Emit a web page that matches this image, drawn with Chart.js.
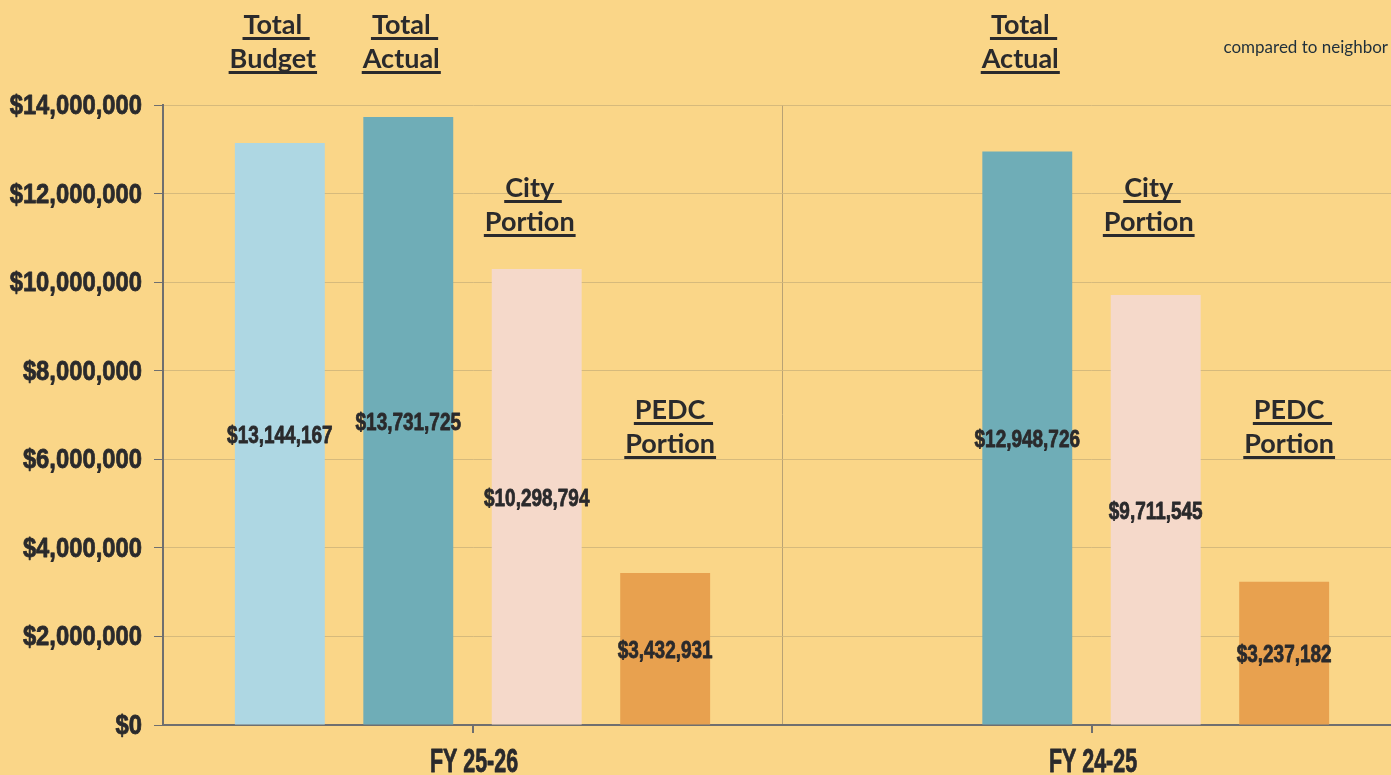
<!DOCTYPE html>
<html>
<head>
<meta charset="utf-8">
<script src="https://cdn.jsdelivr.net/npm/chart.js@4.4.1/dist/chart.umd.min.js"></script>
<style>
  html, body { margin: 0; padding: 0; background: #fad688; overflow: hidden; }
  #wrap { position: relative; width: 1391px; height: 775px; }
  #note {
    position: absolute; right: 3px; top: 36px;
    font: 17px Lato, sans-serif; color: #1f2f3b;
  }
</style>
</head>
<body>
<div id="wrap">
  <canvas id="chart" width="1401" height="775"></canvas>
  <div id="note">compared to neighbor</div>
</div>
<script>
// FY budget vs actual, split into City / PEDC portions

const CATEGORIES   = ['FY 25-26', 'FY 24-25'];
const SERIES       = ['Total Budget', 'Total Actual', 'City Portion', 'PEDC Portion'];
const TOTAL_BUDGET = [13144167, null];
const TOTAL_ACTUAL = [13731725, 12948726];
const CITY_PORTION = [10298794, 9711545];
const PEDC_PORTION = [3432931, 3237182];
const HEADERS      = [['Total ', 'Budget'], ['Total ', 'Actual'], ['City ', 'Portion'], ['PEDC ', 'Portion']];
const Y_MAX  = 14000000;
const Y_STEP = 2000000;

const COLORS = ['#aed7e3', '#6fadb7', '#f5d9ca', '#e8a14f'];
const BOLD   = '"Liberation Sans", Arial, sans-serif';
const INK    = '#2a2a2c';

const fmt = v => '$' + v.toLocaleString('en-US');

// ── Caption layout: baselines (px) and small nudges per series ───────────────
const HEADER_BASE  = [[34, 68], [34, 68], [197, 231], [419, 453]];
const HEADER_NUDGE = [-7, -7, -7, 5];

// draw bold text squeezed horizontally (condensed look)
function narrowText(ctx, text, x, y, size, sx, align, heavy) {
  ctx.save();
  ctx.font = 'bold ' + size + 'px ' + BOLD;
  ctx.textBaseline = 'alphabetic';
  ctx.textAlign = align;
  ctx.translate(x, y);
  ctx.scale(sx, 1);
  ctx.fillText(text, 0, 0);
  if (heavy) {
    ctx.strokeStyle = ctx.fillStyle;
    ctx.lineWidth = heavy;
    ctx.lineJoin = 'round';
    ctx.strokeText(text, 0, 0);
  }
  ctx.restore();
}

const overlay = {
  id: 'overlay',
  afterDatasetsDraw(chart) {
    const ctx = chart.ctx;
    const xs  = chart.scales.x;
    const ys  = chart.scales.y;
    const ca  = chart.chartArea;
    ctx.save();
    ctx.fillStyle = INK;

    // y tick labels
    ys.ticks.forEach(t => {
      narrowText(ctx, fmt(t.value), ca.left - 21, ys.getPixelForValue(t.value) + 9, 28, 0.85, 'right', 0.8);
    });

    // x tick marks + labels at category centres
    ctx.strokeStyle = '#6f6f6f';
    ctx.lineWidth = 2;
    CATEGORIES.forEach((c, i) => {
      const px = Math.round(xs.getPixelForValue(i));
      ctx.beginPath();
      ctx.moveTo(px, ca.bottom);
      ctx.lineTo(px, ca.bottom + 8);
      ctx.stroke();
      narrowText(ctx, c, px + 1, ca.bottom + 47, 33, 0.65, 'center', 0.8);
    });

    chart.data.datasets.forEach((ds, di) => {
      const meta = chart.getDatasetMeta(di);
      meta.data.forEach((bar, i) => {
        const v = ds.data[i];
        if (v == null) return;

        // value label in the middle of the bar
        narrowText(ctx, fmt(v), bar.x, (bar.y + bar.base) / 2 + 9, 24, 0.79, 'center', 0.8);

        // underlined caption
        ctx.font = 'bold 27px Lato, sans-serif';
        ctx.textBaseline = 'alphabetic';
        ctx.textAlign = 'left';
        HEADERS[di].forEach((line, li) => {
          const y = HEADER_BASE[di][li];
          const w = ctx.measureText(line).width;
          const left = bar.x + HEADER_NUDGE[di] - ctx.measureText(line.trim()).width / 2;
          ctx.fillText(line, left, y);
          ctx.fillRect(left - 1, y + 3, w + 2, 3);
        });
      });
    });
    ctx.restore();
  }
};

const datasets = [TOTAL_BUDGET, TOTAL_ACTUAL, CITY_PORTION, PEDC_PORTION].map((d, i) => ({
  label: SERIES[i],
  data: d,
  backgroundColor: COLORS[i],
  borderWidth: 0,
  barPercentage: 0.7,
  categoryPercentage: 0.83
}));

new Chart(document.getElementById('chart'), {
  type: 'bar',
  data: { labels: CATEGORIES, datasets },
  plugins: [overlay],
  options: {
    responsive: false,
    devicePixelRatio: 1,
    animation: false,
    layout: { padding: { top: 105, left: 0, right: 0, bottom: 0 } },
    plugins: {
      legend:  { display: false },
      tooltip: { enabled: false }
    },
    scales: {
      x: {
        grid:   { offset: true, color: '#b9a274', lineWidth: 1, drawTicks: false },
        border: { color: '#6f6f6f', width: 2 },
        ticks:  { display: false },
        afterFit: s => { s.height = 50; }
      },
      y: {
        min: 0,
        max: Y_MAX,
        grid:   { color: '#d6ba7c', tickLength: 9, tickColor: '#6f6f6f' },
        border: { color: '#6f6f6f', width: 2 },
        ticks:  { stepSize: Y_STEP, display: false },
        afterFit: s => { s.width = 163; }
      }
    }
  }
});
</script>
</body>
</html>
